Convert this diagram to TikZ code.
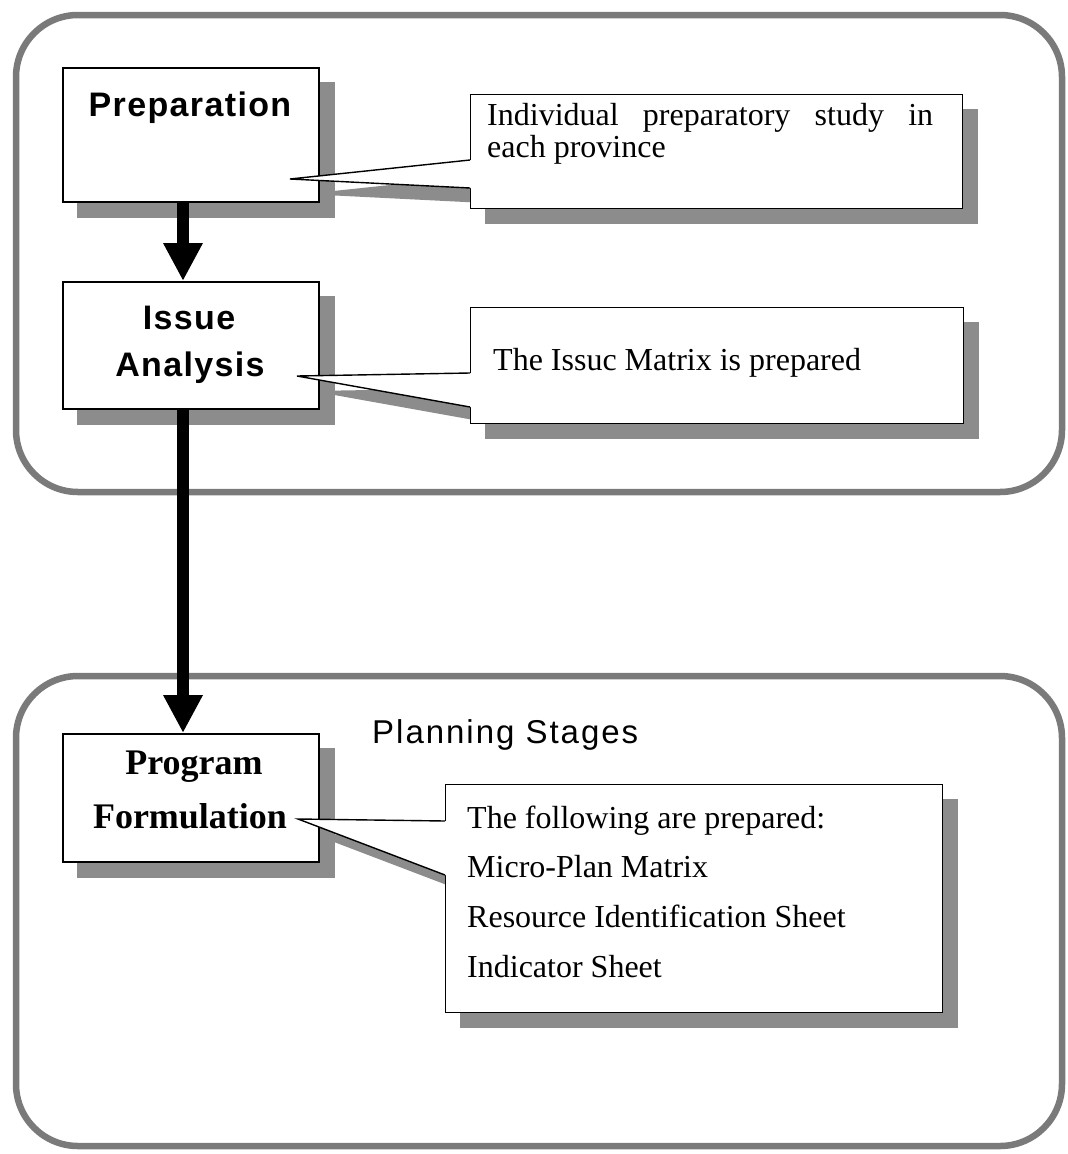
\documentclass[tikz,border=0pt]{standalone}
\usepackage{fontspec}
\setmainfont{Liberation Serif}
\setsansfont{Liberation Sans}
\newfontfamily\stagesans[LetterSpace=4]{Liberation Sans}
\newfontfamily\titlesans[LetterSpace=6]{Liberation Sans}
\usetikzlibrary{arrows.meta,calc}
\pgfdeclarelayer{frames}
\pgfdeclarelayer{shades}
\pgfsetlayers{frames,shades,main}
\colorlet{shadegray}{black!45}
\colorlet{framegray}{black!52}
\tikzset{
  stagebox/.style={draw=black, line width=1.6pt, fill=white, rectangle,
    inner sep=0pt, minimum width=256pt, anchor=north west},
  notebox/.style={draw=black, line width=1.4pt, fill=white, rectangle,
    inner sep=0pt, anchor=north west},
  stagetext/.style={font=\fontsize{34}{40}\stagesans\bfseries, anchor=base, inner sep=0pt},
  formtext/.style={font=\fontsize{36}{44}\selectfont\bfseries, anchor=base, inner sep=0pt},
  notetext/.style={font=\fontsize{32}{38}\selectfont, anchor=base west, inner sep=0pt},
  titletext/.style={font=\fontsize{33}{40}\titlesans, anchor=base west, inner sep=0pt},
  frame/.style={draw=framegray, line width=6.5pt, rounded corners=62pt},
  shade/.style={fill=shadegray},
  flow/.style={line width=12.5pt, -{Triangle[width=37pt,length=38pt]}},
  pointer/.style={draw=black, line width=1.4pt, line join=miter},
}
\begin{document}
\begin{tikzpicture}[x=1pt,y=-1pt]
\useasboundingbox (0,0) rectangle (1068,1154);

% ---------- stage boxes ----------
\node[stagebox, minimum height=134pt] (prep)  at (62,67)  {};
\node[stagebox, minimum height=127pt] (issue) at (62,281) {};
\node[stagebox, minimum height=128pt] (prog)  at (62,733) {};

% ---------- note boxes with pointers ----------
\node[notebox, minimum width=492pt, minimum height=114pt] (n1) at (470,94) {};
\coordinate (n1a) at ($(n1.north west)+(0,66)$);
\coordinate (n1b) at ($(n1.north west)+(0,94)$);
\coordinate (n1p) at (290,179);
\fill[white] (n1a) -- (n1p) -- (n1b) -- ([xshift=3pt]n1b) -- ([xshift=3pt]n1a) -- cycle;
\draw[pointer] (n1a) -- (n1p) -- (n1b);

\node[notebox, minimum width=493pt, minimum height=116pt] (n2) at (470,307) {};
\coordinate (n2a) at ($(n2.north west)+(0,66)$);
\coordinate (n2b) at ($(n2.north west)+(0,100)$);
\coordinate (n2p) at (297,376);
\fill[white] (n2a) -- (n2p) -- (n2b) -- ([xshift=3pt]n2b) -- ([xshift=3pt]n2a) -- cycle;
\draw[pointer] (n2a) -- (n2p) -- (n2b);

\node[notebox, minimum width=497pt, minimum height=228pt] (n3) at (445,784) {};
\coordinate (n3a) at ($(n3.north west)+(0,37)$);
\coordinate (n3b) at ($(n3.north west)+(0,91)$);
\coordinate (n3p) at (298,819);
\fill[white] (n3a) -- (n3p) -- (n3b) -- ([xshift=3pt]n3b) -- ([xshift=3pt]n3a) -- cycle;
\draw[pointer] (n3a) -- (n3p) -- (n3b);

% ---------- texts ----------
\node[stagetext] (prepT) at (190,116) {Preparation};
\node[stagetext] (issueT1) at (189,329) {Issue};
\node[stagetext] (issueT2) at (190,376) {Analysis};
\node[formtext] (progT1) at (194,774) {Program};
\node[formtext] (progT2) at (190,828) {Formulation};
\node[titletext] (title) at (372,743) {Planning Stages};

\node[notetext] (n1t1) at (487,125) {\makebox[446pt][s]{Individual preparatory study in}};
\node[notetext] (n1t2) at (487,157) {each province};
\node[notetext] (n2t) at (493,370) {The Issuc Matrix is prepared};
\node[notetext] (n3t1) at (467,828) {The following are prepared:};
\node[notetext] (n3t2) at (467,877) {Micro-Plan Matrix};
\node[notetext] (n3t3) at (467,927) {Resource Identification Sheet};
\node[notetext] (n3t4) at (467,977) {Indicator Sheet};

% ---------- flow arrows ----------
\coordinate (axis) at (183,0);
\draw[flow] (prep.south -| axis) -- (issue.north -| axis);
\draw[flow] (issue.south -| axis) -- (prog.north -| axis);

% ---------- drop shadows ----------
\begin{pgfonlayer}{shades}
  \foreach \b in {prep,issue,prog,n1,n2,n3}
    \fill[shade] ([shift={(15,15)}]\b.north west) rectangle ([shift={(15,15)}]\b.south east);
  \foreach \b in {n1,n2,n3}
    \fill[shade] ([shift={(15,15)}]\b a) -- ([shift={(15,15)}]\b p) -- ([shift={(15,15)}]\b b) -- cycle;
\end{pgfonlayer}

% ---------- rounded stage frames ----------
\begin{pgfonlayer}{frames}
  \fill[white] (0,0) rectangle (1068,1154);
  \draw[frame] (16,15) rectangle (1062,492);
  \draw[frame] (16,676) rectangle (1062,1146);
\end{pgfonlayer}
\end{tikzpicture}
\end{document}
